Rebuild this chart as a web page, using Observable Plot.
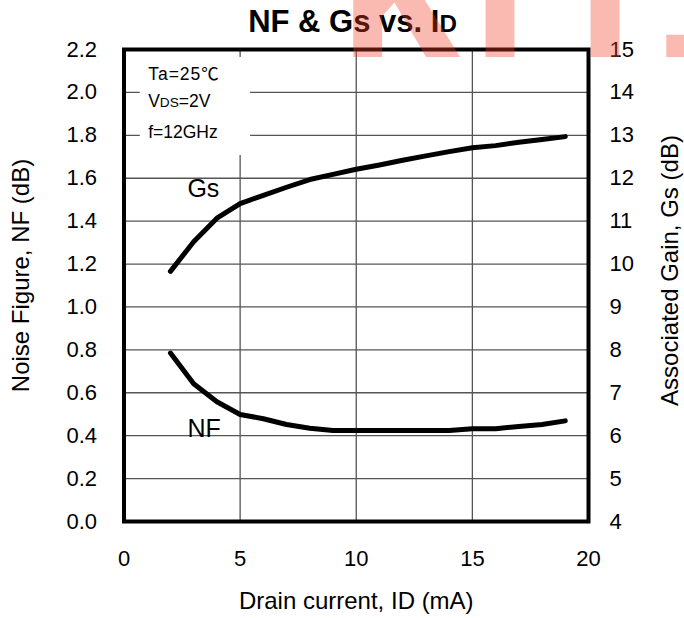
<!DOCTYPE html>
<html>
<head>
<meta charset="utf-8">
<script src="https://cdn.jsdelivr.net/npm/d3@7"></script>
<script src="https://cdn.jsdelivr.net/npm/@observablehq/plot@0.6"></script>
<style>
  html, body { margin: 0; padding: 0; background: #fff; }
  #chart { width: 684px; height: 618px; overflow: hidden; }
</style>
</head>
<body>
<div id="chart"></div>
<script>
// ---- data ----
const ids   = [2, 3, 4, 5, 6, 7, 8, 9, 10, 11, 12, 13, 14, 15, 16, 17, 18, 19];          // Drain current ID (mA)
const nfDb  = [0.785, 0.642, 0.558, 0.499, 0.479, 0.452, 0.435, 0.424, 0.424, 0.424,
               0.424, 0.424, 0.424, 0.432, 0.432, 0.443, 0.452, 0.469];                  // Noise figure (dB)
const gsDb  = [9.83, 10.52, 11.07, 11.41, 11.60, 11.79, 11.97, 12.09, 12.21, 12.31,
               12.42, 12.52, 12.62, 12.71, 12.76, 12.84, 12.90, 12.97];                  // Associated gain (dB)
const xTicks  = [0, 5, 10, 15, 20];
const nfTicks = [0, 0.2, 0.4, 0.6, 0.8, 1.0, 1.2, 1.4, 1.6, 1.8, 2.0, 2.2];
const gsTicks = [4, 5, 6, 7, 8, 9, 10, 11, 12, 13, 14, 15];
const notes   = ["Ta=25℃", "VDS=2V", "f=12GHz"];
const titleText = "NF & Gs vs. ID";
const xLabel = "Drain current, ID (mA)";
const yLabelLeft = "Noise Figure, NF (dB)";
const yLabelRight = "Associated Gain, Gs (dB)";

// Gs (right axis, 4..15 dB) shares the frame with NF (left axis, 0..2.2 dB)
const gsToNf = g => (g - 4) / 5;

const nfData = ids.map((id, i) => ({id, v: nfDb[i]}));
const gsData = ids.map((id, i) => ({id, v: gsToNf(gsDb[i])}));

const font = "'Liberation Sans', Arial, 'Noto Sans CJK JP', 'DejaVu Sans', sans-serif";

const plot = Plot.plot({
  width: 684,
  height: 618,
  marginLeft: 123.5,
  marginRight: 96,
  marginTop: 49,
  marginBottom: 97,
  style: {fontFamily: font, fontSize: "22px", color: "black", background: "white", overflow: "visible"},
  x: {domain: [0, 20]},
  y: {domain: [0, 2.2]},
  marks: [
    Plot.gridX(xTicks, {stroke: "#555", strokeOpacity: 1, strokeWidth: 1.3}),
    Plot.gridY(nfTicks, {stroke: "#555", strokeOpacity: 1, strokeWidth: 1.3}),
    // white panel behind the test conditions
    Plot.rect([0], {x1: 0.7, x2: 5.45, y1: 1.706, y2: 2.163, fill: "white"}),
    Plot.line(gsData, {x: "id", y: "v", stroke: "black", strokeWidth: 5, strokeLinecap: "round", strokeLinejoin: "round"}),
    Plot.line(nfData, {x: "id", y: "v", stroke: "black", strokeWidth: 5, strokeLinecap: "round", strokeLinejoin: "round"}),
    Plot.frame({stroke: "black", strokeWidth: 4}),
    Plot.axisX(xTicks, {tickSize: 0, tickPadding: 29, label: null, fontSize: 22}),
    Plot.axisY(nfTicks, {anchor: "left", tickSize: 0, tickPadding: 27, label: null, fontSize: 22,
                         tickFormat: d3.format(".1f")}),
    Plot.axisY(gsTicks.map(gsToNf), {anchor: "right", tickSize: 0, tickPadding: 21, label: null, fontSize: 22,
                         tickFormat: d => String(Math.round(d * 5 + 4))}),
    // curve labels
    Plot.text(["Gs"], {x: 2.73, y: 1.512, text: d => d, textAnchor: "start", lineAnchor: "bottom", fontSize: 25}),
    Plot.text(["NF"], {x: 2.73, y: 0.393, text: d => d, textAnchor: "start", lineAnchor: "bottom", fontSize: 25}),
    // test conditions
    Plot.text([notes[0]], {x: 1.04, y: 2.059, text: d => d, textAnchor: "start", lineAnchor: "bottom", fontSize: 17.5}),
    Plot.text([notes[1]], {x: 1.04, y: 1.931, text: d => d, textAnchor: "start", lineAnchor: "bottom", fontSize: 17.5}),
    Plot.text([notes[2]], {x: 1.04, y: 1.789, text: d => d, textAnchor: "start", lineAnchor: "bottom", fontSize: 17.5}),
    // title and axis labels
    Plot.text([titleText], {frameAnchor: "top", dx: -3.75, dy: -17.5, text: d => d, lineAnchor: "bottom",
                            fontSize: 31, fontWeight: "bold"}),
    Plot.text([xLabel], {frameAnchor: "bottom", dy: 87.3, text: d => d, lineAnchor: "bottom", fontSize: 24}),
    Plot.text([yLabelLeft], {frameAnchor: "left", dx: -103, dy: -10, rotate: -90, text: d => d,
                             textAnchor: "middle", lineAnchor: "middle", fontSize: 24}),
    Plot.text([yLabelRight], {frameAnchor: "right", dx: 82, dy: -15, rotate: -90, text: d => d,
                              textAnchor: "middle", lineAnchor: "middle", fontSize: 24})
  ]
});

// small-cap style subscripts (ID, VDS)
const NS = "http://www.w3.org/2000/svg";
function rich(el, parts) {
  el.textContent = "";
  for (const [s, small] of parts) {
    const ts = document.createElementNS(NS, "tspan");
    ts.textContent = s;
    if (small) ts.setAttribute("font-size", "0.78em");
    el.appendChild(ts);
  }
}
d3.select(plot).selectAll("text").each(function () {
  const t = this.textContent;
  if (t === titleText) rich(this, [["NF & Gs vs. I", false], ["D", true]]);
  else if (t === notes[1]) rich(this, [["V", false], ["DS", true], ["=2V", false]]);
  else if (t === notes[0]) this.setAttribute("letter-spacing", "1px");
});

// translucent watermark across the top
const wm = d3.select(plot).append("g")
  .attr("fill", "rgb(240,60,40)")
  .attr("fill-opacity", 0.36)
  .attr("font-family", "'Liberation Mono', 'Courier New', monospace")
  .attr("font-weight", "bold")
  .attr("font-size", 200)
  .attr("text-anchor", "middle");
[["K", 400], ["T", 500], ["T", 605], ["I", 711]].forEach(([c, x]) => {
  wm.append("text").attr("x", x).attr("y", 57).text(c);
});

document.getElementById("chart").appendChild(plot);
</script>
</body>
</html>
